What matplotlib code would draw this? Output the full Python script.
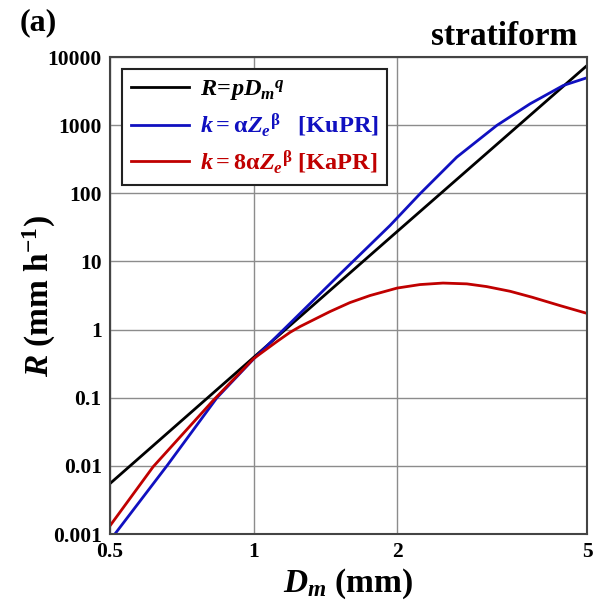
import matplotlib
matplotlib.use("Agg")
import matplotlib.pyplot as plt

# ── Fonts ─────────────────────────────────────────────
plt.rcParams.update({
    "font.family":        "Liberation Serif",
    "font.weight":        "bold",
    "mathtext.fontset":   "custom",
    "mathtext.rm":        "Liberation Serif:bold",
    "mathtext.it":        "Liberation Serif:italic:bold",
    "mathtext.bf":        "Liberation Serif:bold",
    "figure.facecolor":   "white",
})

# ── Data (Dm in mm, R in mm/h) ─
dm_pow = [0.5, 1.0, 2.0, 5.0]
r_pow = [0.0055, 0.39, 27.5, 7500.0]

dm_ku = [0.512, 0.658, 0.838, 1.0, 1.19, 1.52, 1.932, 2.233, 2.666,
         3.234, 3.80, 4.46, 5.0]
r_ku = [0.001, 0.01, 0.1, 0.37, 1.22, 6.6, 33.7, 98.4, 339.0,
        990.0, 2061.0, 3829.0, 4966.0]

dm_ka = [0.5, 0.616, 0.822, 1.0, 1.12, 1.192, 1.251, 1.446, 1.592, 1.754,
         2.0, 2.233, 2.495, 2.8, 3.08, 3.45, 3.84, 4.39, 5.0]
r_ka = [0.00132, 0.00973, 0.0906, 0.375, 0.67, 0.91, 1.107, 1.838, 2.49,
        3.16, 4.07, 4.58, 4.82, 4.69, 4.28, 3.65, 2.98, 2.25, 1.73]

x_ticks = [0.5, 1, 2, 5]
x_labels = ["0.5", "1", "2", "5"]
y_ticks = [0.001, 0.01, 0.1, 1, 10, 100, 1000, 10000]
y_labels = ["0.001", "0.01", "0.1", "1", "10", "100", "1000", "10000"]

BLUE = "#1010c0"
RED = "#c00000"

# ── Figure ────────────────────────────────────────────
fig = plt.figure(figsize=(6.0, 6.03), dpi=100)
ax = fig.add_axes([0.1833, 0.1144, 0.795, 0.791])

ax.plot(dm_pow, r_pow, color="black", lw=2.0,
        label=r"$R\!=\!pD_m{}^q$")
ax.plot(dm_ku, r_ku, color=BLUE, lw=2.0,
        label=r"$k=\mathrm{\alpha} Z_e{}^{\mathrm{\beta}}$   [KuPR]")
ax.plot(dm_ka, r_ka, color=RED, lw=2.0,
        label=r"$k=8\mathrm{\alpha} Z_e{}^{\mathrm{\beta}}$ [KaPR]")

ax.set_xscale("log")
ax.set_yscale("log")
ax.set_xlim(0.5, 5)
ax.set_ylim(0.001, 10000)
ax.set_xticks(x_ticks)
ax.set_xticklabels(x_labels)
ax.set_yticks(y_ticks)
ax.set_yticklabels(y_labels)
ax.minorticks_off()
ax.tick_params(length=0, labelsize=15.5, pad=6)
ax.grid(True, color="#8c8c8c", lw=1.0)
ax.set_axisbelow(True)
for sp in ax.spines.values():
    sp.set_color("#444444")
    sp.set_linewidth(1.5)

ax.set_xlabel(r"$D_m$ (mm)", fontsize=24, fontweight="bold", va="top")
ax.xaxis.set_label_coords(0.5, -0.068)
ax.set_ylabel(r"$R$ (mm h$^{-1}$)", fontsize=24, fontweight="bold")
ax.yaxis.set_label_coords(-0.11, 0.5)

leg = ax.legend(loc="upper left", bbox_to_anchor=(0.0, 1.0),
                bbox_transform=ax.transAxes,
                prop={"family": "Liberation Serif", "weight": "bold", "size": 17.5},
                frameon=True, fancybox=False, framealpha=1,
                edgecolor="#222222", handlelength=2.4, handletextpad=0.45,
                labelspacing=0.38, borderpad=0.35, borderaxespad=0.5)
leg.get_frame().set_linewidth(1.5)
for txt, col in zip(leg.get_texts(), ["black", BLUE, RED]):
    txt.set_color(col)

fig.text(0.033, 0.95, "(a)", fontsize=23, ha="left", va="baseline")
fig.text(0.963, 0.925, "stratiform", fontsize=24, ha="right", va="baseline")

fig.savefig("out.png", dpi=100)
plt.close(fig)
